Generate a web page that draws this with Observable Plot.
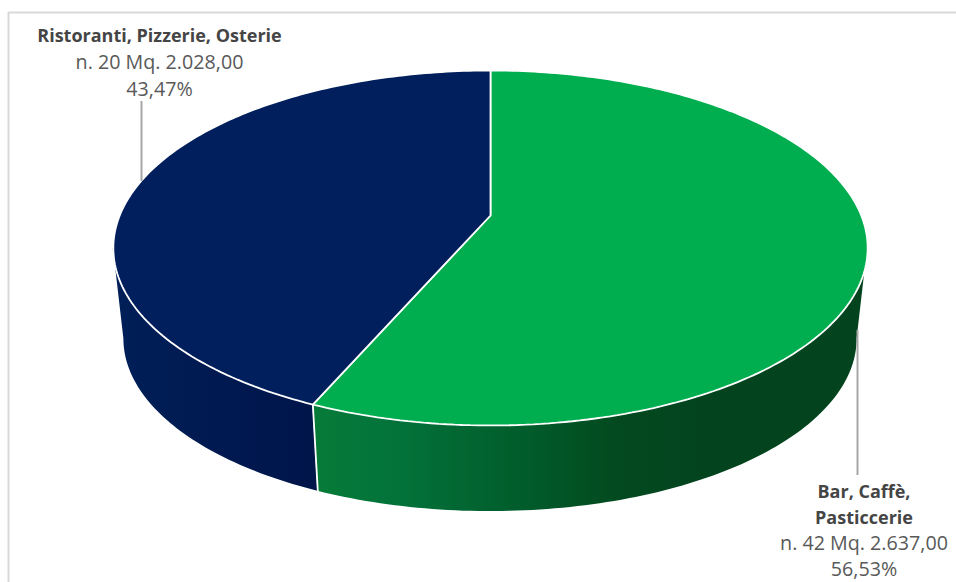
<!DOCTYPE html>
<html lang="it">
<head>
<meta charset="utf-8">
<title>Ristoranti e bar per superficie</title>
<script src="https://cdn.jsdelivr.net/npm/d3@7"></script>
<script src="https://cdn.jsdelivr.net/npm/@observablehq/plot@0.6"></script>
<style>
  html, body { margin: 0; padding: 0; background: #fff; }
  svg { display: block; }
</style>
</head>
<body>
<div id="chart"></div>
<script>
// Esercizi per categoria: numero di locali e superficie in metri quadri
const categoryLines = [["Bar, Caffè,", "Pasticcerie"], ["Ristoranti, Pizzerie, Osterie"]];
const counts = [42, 20];
const surfaces = [2637, 2028];

const topColors = ["#00AE50", "#001F5C"];
const sideRamps = [
  [[317, "#067B38"], [400, "#03723A"], [530, "#015B2A"], [620, "#03491F"], [700, "#03441F"], [870, "#03441F"]],
  [[110, "#001F58"], [312, "#00154A"]]
];

// Disposizione in pixel: il pannello usa scale x/y identiche alla pagina
const width = 956, height = 582;
const centerX = 490, apexY = 215, radius = 370.8;
const perspective = -0.183, depthGain = 132.2;
const extrude = 92, baseScale = 0.972;
const labelLayout = [
  {x: 863.5, y: 492, step: 25.6, leader: {x: 857, y1: 330, y2: 475}},
  {x: 159, y: 36, step: 26.5, leader: {x: 141, y1: 101, y2: 181}}
];

const it = d3.formatLocale({decimal: ",", thousands: ".", grouping: [3]});
const mq = it.format(",.2f");
const pct = it.format(".2f");
const total = d3.sum(surfaces);

// Proiezione prospettica di un punto del bordo superiore (angolo da ore 12, senso orario)
function rim(theta) {
  const t = -Math.cos(theta), w = 1 + perspective * t;
  return {x: centerX + radius * Math.sin(theta) / w, y: (depthGain * t + apexY) / w};
}
function base(p) {
  return {x: centerX + (p.x - centerX) * baseScale, y: apexY + extrude + (p.y - apexY) * baseScale};
}

const step = Math.PI / 180;
let acc = 0;
const slices = surfaces.map((v, i) => {
  const a0 = acc * 2 * Math.PI;
  acc += v / total;
  return {index: i, a0, a1: acc * 2 * Math.PI};
});

// Faccia superiore di ogni spicchio
const topPoints = slices.flatMap(s => {
  const pts = [{x: centerX, y: apexY, s: s.index}];
  const n = Math.ceil((s.a1 - s.a0) / step);
  for (let j = 0; j <= n; ++j) pts.push({...rim(s.a0 + (s.a1 - s.a0) * j / n), s: s.index});
  pts.push({x: centerX, y: apexY, s: s.index});
  return pts;
});

// Il fianco in vista è compreso tra i due estremi orizzontali del bordo
const degrees = d3.range(0, 360, 0.25).map(d => d * step);
const visibleFrom = d3.greatest(degrees, a => rim(a).x);
const visibleTo = d3.least(degrees, a => rim(a).x);
const sideBands = slices.map(s => {
  const from = Math.max(s.a0, visibleFrom), to = Math.min(s.a1, visibleTo);
  const n = Math.ceil((to - from) / step);
  return d3.range(n + 1).map(j => {
    const p = rim(from + (to - from) * j / n), q = base(p);
    return {x1: p.x, y1: p.y, x2: q.x, y2: q.y};
  });
});

// Sfumature orizzontali dei fianchi, posizionate tramite la scala x
function sideGradients(index, {x}) {
  const g = d3.create("svg:g");
  const defs = g.append("defs");
  sideRamps.forEach((ramp, i) => {
    const x0 = ramp[0][0], x1 = ramp[ramp.length - 1][0];
    const grad = defs.append("linearGradient")
      .attr("id", `side-${i}`)
      .attr("gradientUnits", "userSpaceOnUse")
      .attr("x1", x(x0)).attr("x2", x(x1)).attr("y1", 0).attr("y2", 0);
    ramp.forEach(([pos, color]) => grad.append("stop")
      .attr("offset", (pos - x0) / (x1 - x0))
      .attr("stop-color", color));
  });
  return g.node();
}

// Spigolo tra i due spicchi sul fianco
const seamTop = rim(slices[1].a0);
const seam = [seamTop, base(seamTop)];

// Etichette
const labelRows = slices.flatMap(s => {
  const i = s.index, l = labelLayout[i];
  const share = surfaces[i] / total * 100;
  const lines = [
    ...categoryLines[i].map(text => ({text, bold: true})),
    {text: `n. ${counts[i]} Mq. ${mq(surfaces[i])}`, bold: false},
    {text: `${pct(share)}%`, bold: false}
  ];
  return lines.map((d, k) => ({...d, x: l.x, y: l.y + k * l.step}));
});

const chart = Plot.plot({
  width, height,
  margin: 0,
  x: {domain: [0, width], range: [0, width], axis: null},
  y: {domain: [0, height], range: [0, height], axis: null},
  marks: [
    sideGradients,
    // Cornice del grafico
    Plot.ruleY([12], {x1: 8, x2: width, stroke: "#D9D9D9", strokeWidth: 2}),
    Plot.ruleX([8], {y1: 12, y2: height, stroke: "#D9D9D9", strokeWidth: 2}),
    ...sideBands.map((band, i) => Plot.area(band, {x1: "x1", y1: "y1", x2: "x2", y2: "y2", fill: `url(#side-${i})`})),
    Plot.line(seam, {x: "x", y: "y", stroke: "#fff", strokeWidth: 1.8}),
    Plot.line(topPoints, {x: "x", y: "y", z: "s", fill: d => topColors[d.s], stroke: "#fff", strokeWidth: 1.8, strokeLinejoin: "miter"}),
    Plot.ruleX(labelLayout, {x: d => d.leader.x, y1: d => d.leader.y1, y2: d => d.leader.y2, stroke: "#A6A6A6", strokeWidth: 2}),
    Plot.text(labelRows.filter(d => d.bold), {
      x: "x", y: "y", text: "text", fill: "#454545",
      fontWeight: 700, fontFamily: "'Open Sans', sans-serif", fontSize: 18,
      textAnchor: "middle", lineAnchor: "middle"
    }),
    Plot.text(labelRows.filter(d => !d.bold), {
      x: "x", y: "y", text: "text", fill: "#595959",
      fontWeight: 400, fontFamily: "'Open Sans', sans-serif", fontSize: 19.7,
      textAnchor: "middle", lineAnchor: "middle"
    })
  ]
});
document.getElementById("chart").append(chart);
</script>
</body>
</html>
